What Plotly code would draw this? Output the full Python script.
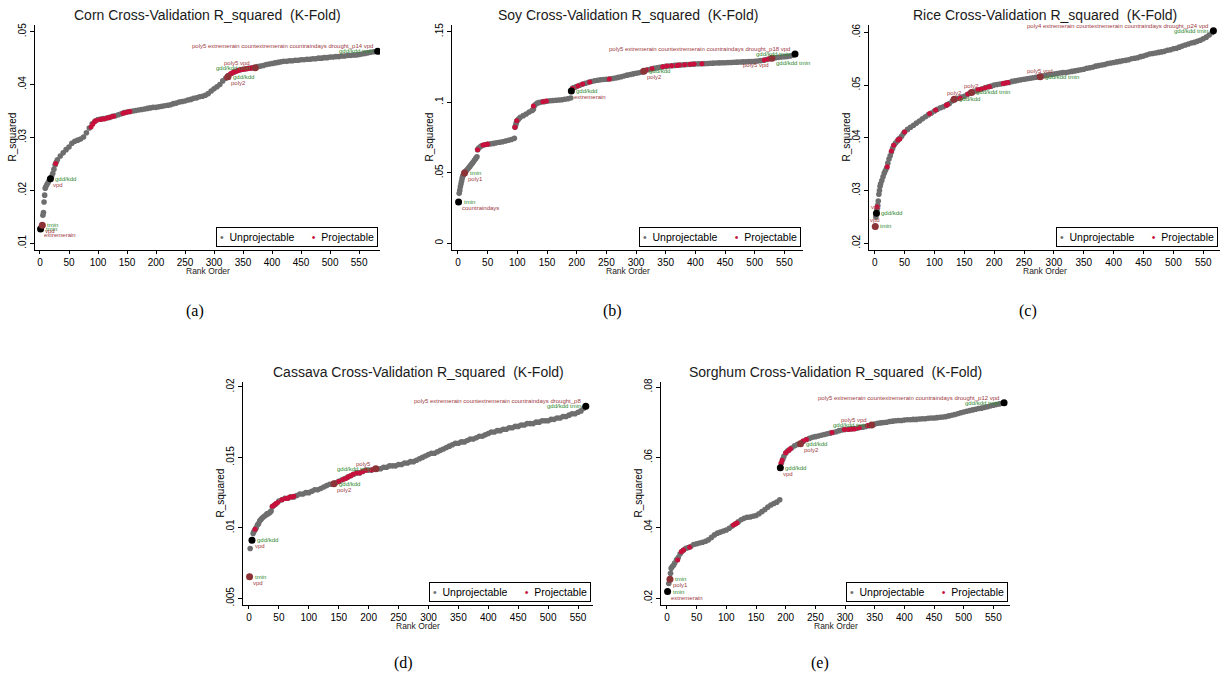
import plotly.graph_objects as go

W, H = 1225, 683

# ---------------- DATA ----------------
# Corn
corn_rank = [1, 3, 5, 6, 7, 8, 9, 10, 12, 14, 16, 18, 20, 22, 24, 26, 28] + list(range(30, 585, 5))
corn_r2 = [.0127, .0133, .0153, .0158, .0178, .0191, .0204, .0207, .0211, .0215, .0219, .0222, .0226, .0232, .0240, .0248, .0253,
           .0258, .0265, .0271, .0277, .0282, .0289, .0293, .0295, .0297, .0301,
           .0309, .0318, .0326, .0331, .0334, .0335, .0336, .0337, .0338, .0340,
           .0341, .0343, .0345, .0347, .0348, .0349, .0350, .0351, .0352, .0353,
           .0354, .0355, .0356, .0357, .0357, .0358, .0359, .0360, .0361, .0362,
           .0364, .0365, .0367, .0368, .0369, .0371, .0372, .0374, .0375, .0377,
           .0378, .0380, .0383, .0388, .0392, .0396, .0400, .0407, .0412, .0417,
           .0421, .0424, .0426, .0428, .0429, .0430, .0431, .0432, .0432, .0434,
           .0435, .0436, .0438, .0439, .0440, .0441, .0442, .0443, .0444, .0444,
           .0445, .0445, .0446, .0446, .0447, .0447, .0448, .0448, .0449, .0449,
           .0450, .0450, .0451, .0451, .0452, .0452, .0453, .0453, .0454, .0454,
           .0455, .0455, .0456, .0456, .0457, .0458, .0459, .0460, .0461, .0462,
           .0463]
corn_proj_rank = [27, 88, 91, 94, 97, 104, 107, 111, 116, 119, 124, 127, 143, 146, 151, 155,
                  322, 325, 328, 331, 334, 337, 340, 343, 346, 349, 352, 355, 358, 361, 364, 367]
corn_proj_r2 = [.0251, .0320, .0325, .0330, .0332, .0334, .0335, .0335, .0337, .0338, .0339, .0340, .0346, .0347, .0348, .0349,
                .0413, .0417, .0420, .0422, .0424, .0425, .0426, .0427, .0428, .0429, .0429, .0430, .0430, .0431, .0431, .0432]
corn_best_rank = [1, 4, 18, 324, 371, 582]
corn_best_r2 = [.0127, .0134, .0222, .0415, .0432, .0463]
corn_best_kind = ['unproj', 'proj', 'unproj', 'proj', 'proj', 'unproj']
corn_best_green = ['tmin', 'tmin', 'gdd/kdd', 'gdd/kdd', 'gdd/kdd tmin', 'gdd/kdd tmin']
corn_best_red = ['extremerain', 'vpd', 'vpd', 'poly2', 'poly5 vpd',
                 'poly5 extremerain countextremerain countraindays drought_p14 vpd']

# Soy
soy_rank = [1, 2, 3, 4, 5, 6, 7, 8, 9, 10, 12, 14, 16, 18, 20, 22, 24, 26, 28, 30, 32, 33, 35, 38, 40, 45, 50, 55, 60, 65,
            70, 75, 80, 85, 90, 95, 96, 97, 98, 99, 100, 102, 105, 110, 115, 120, 125, 127, 128, 130, 133, 136, 140,
            145, 150, 155, 160, 165, 170, 175, 180, 185, 190, 193, 195, 198, 200] + list(range(205, 570, 5))
soy_r2 = [.0293, .0354, .0375, .0400, .0420, .0440, .0460, .0475, .0485, .0492, .0506, .0515, .0525, .0535, .0545,
          .0556, .0567, .0578, .0590, .0602, .0614, .0664, .0675, .0686, .0692, .0698, .0703, .0705, .0708, .0712,
          .0716, .0720, .0725, .0730, .0736, .0744, .0822, .0835, .0850, .0865, .0870, .0880, .0893, .0905, .0917,
          .0930, .0942, .0950, .0970, .0982, .0992, .0997, .1001, .1004, .1007, .1010, .1012, .1014, .1016, .1018,
          .1021, .1025, .1030, .1098, .1102, .1108, .1112,
          .1120, .1128, .1135, .1141, .1147, .1152, .1156, .1159, .1161, .1163,
          .1165, .1168, .1172, .1176, .1181, .1186, .1192, .1197, .1201, .1205,
          .1209, .1214, .1222, .1230, .1236, .1240, .1244, .1248, .1251, .1254,
          .1257, .1259, .1261, .1263, .1264, .1266, .1267, .1268, .1270, .1271,
          .1272, .1273, .1274, .1275, .1276, .1277, .1278, .1279, .1280, .1280,
          .1281, .1282, .1283, .1284, .1285, .1286, .1287, .1288, .1289, .1290,
          .1292, .1295, .1298, .1303, .1308, .1312, .1315, .1318, .1320, .1322,
          .1325, .1328, .1334]
soy_proj_rank = [33, 42, 47, 50, 96, 99, 127, 143, 149, 193, 202, 210, 222, 255, 317, 327, 345, 352, 360, 369, 373,
                 382, 391, 398, 411, 516, 523]
soy_proj_r2 = [.0664, .0697, .0700, .0703, .0822, .0868, .0973, .1004, .1009, .1098, .1115, .1129, .1143, .1165, .1228,
               .1238, .1252, .1257, .1259, .1261, .1264, .1266, .1269, .1271, .1273, .1299, .1306]
soy_best_rank = [1, 11, 191, 313, 529, 568]
soy_best_r2 = [.0293, .0498, .1080, .1219, .1311, .1342]
soy_best_kind = ['unproj', 'proj', 'unproj', 'proj', 'proj', 'unproj']
soy_best_green = ['tmin', 'tmin', 'gdd/kdd', 'gdd/kdd', 'gdd/kdd tmin', 'gdd/kdd tmin']
soy_best_red = ['countraindays', 'poly1', 'extremerain', 'poly2', 'poly5 vpd',
                'poly5 extremerain countextremerain countraindays drought_p18 vpd']

# Rice
rice_rank = [1, 2, 3, 4, 5, 6, 7, 8, 9, 10, 12, 14, 16, 18, 20, 22, 24, 26, 28, 30, 32, 35, 38, 40, 42, 45, 48] + list(range(50, 570, 5))
rice_r2 = [.0232, .0250, .0257, .0264, .0272, .0280, .0293, .0300, .0308, .0313, .0319, .0326, .0333, .0338, .0343,
           .0352, .0360, .0366, .0373, .0380, .0386, .0390, .0394, .0397, .0399, .0403, .0408,
           .0411, .0416, .0420, .0424, .0428, .0432, .0436, .0440, .0444, .0447,
           .0451, .0454, .0457, .0459, .0462, .0465, .0470, .0473, .0475, .0477,
           .0479, .0482, .0485, .0487, .0489, .0491, .0493, .0495, .0497, .0498,
           .0500, .0501, .0502, .0503, .0504, .0505, .0507, .0508, .0509, .0510,
           .0511, .0512, .0513, .0514, .0515, .0516, .0517, .0518, .0519, .0520,
           .0521, .0522, .0523, .0524, .0524, .0525, .0526, .0527, .0528, .0529,
           .0530, .0532, .0533, .0534, .0536, .0537, .0538, .0539, .0541, .0542,
           .0543, .0544, .0545, .0546, .0547, .0548, .0550, .0551, .0552, .0554,
           .0555, .0557, .0559, .0560, .0561, .0562, .0563, .0564, .0566, .0567,
           .0569, .0570, .0572, .0574, .0576, .0578, .0580, .0581, .0583, .0585,
           .0588, .0591, .0595, .0600]
rice_proj_rank = [4, 21, 28, 32, 39, 42, 50, 92, 102, 120, 122, 143, 156, 173, 178, 185, 192, 215, 219, 223]
rice_proj_r2 = [.0269, .0345, .0375, .0386, .0396, .0398, .0411, .0446, .0453, .0462, .0463, .0475, .0483, .0491, .0492,
                .0495, .0497, .0503, .0504, .0505]
rice_best_rank = [1, 3, 133, 162, 277, 567]
rice_best_r2 = [.0232, .0257, .0473, .0486, .0516, .0603]
rice_best_kind = ['proj', 'unproj', 'proj', 'proj', 'proj', 'unproj']
rice_best_green = ['tmin', 'gdd/kdd', 'gdd/kdd', 'gdd/kdd tmin', 'gdd/kdd tmin', 'gdd/kdd tmin']
rice_best_red = ['vpd', 'vpd', 'poly2', 'poly2', 'poly5 vpd',
                 'poly4 extremerain countextremerain countraindays drought_p24 vpd']

# Cassava
cassava_rank = [1, 2, 5, 7, 8, 10, 12, 14, 16, 18, 20, 22, 25, 28, 30, 32, 35, 37, 39, 42, 45] + list(range(50, 565, 5))
cassava_r2 = [.00654, .00854, .00913, .0096, .00972, .00985, .0100, .0102, .0103, .0105, .0106, .0107, .0108, .0109,
              .0110, .0110, .0111, .0112, .0115, .0116, .0117,
              .0119, .0120, .0121, .0121, .0122, .0122, .0123, .0124, .0124, .0125,
              .0125, .0126, .0127, .0127, .0128, .0129, .0130, .0131, .0131, .0132,
              .0133, .0134, .0135, .0136, .0137, .0138, .0139, .0139, .0140, .0141,
              .0141, .0141, .0142, .0142, .0142, .0143, .0143, .0144, .0144, .0144,
              .0145, .0145, .0146, .0146, .0147, .0147, .0148, .0149, .0150, .0151,
              .0152, .0153, .0153, .0154, .0155, .0156, .0157, .0158, .0159, .0160,
              .0160, .0161, .0161, .0162, .0163, .0163, .0164, .0165, .0165, .0166,
              .0167, .0168, .0168, .0169, .0169, .0170, .0170, .0171, .0171, .0172,
              .0172, .0173, .0173, .0174, .0174, .0174, .0175, .0175, .0176, .0176,
              .0176, .0177, .0177, .0178, .0178, .0179, .0179, .0180, .0181, .0181,
              .0182, .0183, .0185]
cassava_proj_rank = [10, 39, 42, 45, 48, 55, 61, 65, 68, 72, 75, 150, 157, 162, 166, 170, 174, 180, 185, 190, 196, 205]
cassava_proj_r2 = [.0099, .01154, .0116, .01173, .0118, .0120, .01209, .0121, .0122, .0122, .01225, .0133, .01343, .0135,
                   .01362, .0137, .01381, .0139, .0139, .0140, .01409, .0141]
cassava_best_rank = [1, 5, 142, 212, 563]
cassava_best_r2 = [.00654, .00913, .01313, .01419, .01863]
cassava_best_kind = ['proj', 'unproj', 'proj', 'proj', 'unproj']
cassava_best_green = ['tmin', 'gdd/kdd', 'gdd/kdd', 'gdd/kdd tmin', 'gdd/kdd tmin']
cassava_best_red = ['vpd', 'vpd', 'poly2', 'poly5',
                    'poly5 extremerain countextremerain countraindays drought_p8']

# Sorghum
sorghum_rank = ([1, 3, 5, 6, 7, 9, 11, 13, 16, 19, 22, 25, 28, 32, 36, 40] + list(range(45, 195, 5)) +
                [193, 195, 197, 200, 203, 206, 210] + list(range(215, 570, 5)))
sorghum_r2 = [.0219, .0242, .0254, .0271, .0285, .0290, .0294, .0300, .0309, .0316, .0326, .0333, .0337, .0342, .0344, .0347,
              .0353, .0355, .0357, .0359, .0362, .0366, .0373, .0380, .0385, .0388,
              .0391, .0394, .0399, .0405, .0411, .0417, .0423, .0427, .0430, .0431,
              .0433, .0435, .0440, .0446, .0452, .0459, .0465, .0469, .0473, .0480,
              .0585, .0595, .0603, .0612, .0618, .0622, .0627,
              .0633, .0637, .0640, .0646, .0651, .0654, .0657, .0659, .0661, .0663,
              .0665, .0667, .0669, .0671, .0673, .0676, .0678, .0679, .0680, .0681,
              .0682, .0683, .0685, .0686, .0688, .0690, .0692, .0695, .0697, .0698,
              .0699, .0700, .0702, .0703, .0704, .0705, .0705, .0706, .0707, .0707,
              .0708, .0708, .0709, .0710, .0710, .0711, .0712, .0712, .0713, .0714,
              .0715, .0716, .0718, .0720, .0722, .0724, .0727, .0729, .0731, .0733,
              .0735, .0737, .0739, .0740, .0742, .0744, .0746, .0748, .0750, .0752,
              .0754]
sorghum_proj_rank = [18, 24, 28, 38, 112, 115, 118, 192, 194, 200, 205, 208, 229, 235, 278, 299, 306, 312, 316, 324, 338]
sorghum_proj_r2 = [.0309, .0332, .0337, .0345, .0408, .0411, .0414, .0583, .0592, .0613, .0620, .0625, .0647, .0651, .0671,
                   .0679, .0679, .0681, .0681, .0684, .0691]
sorghum_best_rank = [1, 5, 191, 225, 345, 568]
sorghum_best_r2 = [.0219, .0254, .0571, .0639, .0692, .0755]
sorghum_best_kind = ['unproj', 'proj', 'unproj', 'proj', 'proj', 'unproj']
sorghum_best_green = ['tmin', 'tmin', 'gdd/kdd', 'gdd/kdd', 'gdd/kdd tmin', 'gdd/kdd tmin']
sorghum_best_red = ['extremerain', 'poly1', 'vpd', 'poly2', 'poly5 vpd',
                    'poly5 extremerain countextremerain countraindays drought_p12 vpd']

for a, b in [(corn_rank, corn_r2), (soy_rank, soy_r2), (rice_rank, rice_r2),
             (cassava_rank, cassava_r2), (sorghum_rank, sorghum_r2)]:
    assert len(a) == len(b), (len(a), len(b))

# ---------------- STYLE ----------------
GRAY = '#6e6e6e'
RED = '#c8103c'
CRAN = '#8c3338'
GREEN_TXT = '#2b8a2b'
RED_TXT = '#9c3a42'
FONT = 'Liberation Sans, Arial, sans-serif'
SERIF = 'Liberation Serif, Times New Roman, serif'

# label placement codes (anchor, xshift, yshift) for green, red label
POS = {
    'R': (('left', 4, 0), ('left', 2, -6)),
    'L': (('right', -4, 0), ('right', -4, 5)),
    'A': (('left', 4, 0), ('center', 0, 6)),
    'D': (('left', 3, -5), ('right', -2, -7)),
}

panels = [
    dict(title='Corn Cross-Validation R_squared&nbsp; (K-Fold)', rank=corn_rank, r2=corn_r2,
         prank=corn_proj_rank, pr2=corn_proj_r2, brank=corn_best_rank, br2=corn_best_r2,
         bkind=corn_best_kind, bgreen=corn_best_green, bred=corn_best_red,
         bpos=['R', 'R', 'R', 'R', 'L', 'L'],
         box=(35, 380, 25, 250), xr=(-8.6, 586), yr=(.00873, .05127),
         yt=[.01, .02, .03, .04, .05], ytt=['.01', '.02', '.03', '.04', '.05'],
         cap='(a)', capxy=(195, 311)),
    dict(title='Soy Cross-Validation R_squared&nbsp; (K-Fold)', rank=soy_rank, r2=soy_r2,
         prank=soy_proj_rank, pr2=soy_proj_r2, brank=soy_best_rank, br2=soy_best_r2,
         bkind=soy_best_kind, bgreen=soy_best_green, bred=soy_best_red,
         bpos=['R', 'R', 'R', 'R', 'D', 'L'],
         box=(452, 803, 25, 250), xr=(-10.1, 581.4), yr=(-.00475, .15475),
         yt=[0, .05, .1, .15], ytt=['0', '.05', '.1', '.15'],
         cap='(b)', capxy=(612, 311)),
    dict(title='Rice Cross-Validation R_squared&nbsp; (K-Fold)', rank=rice_rank, r2=rice_r2,
         prank=rice_proj_rank, pr2=rice_proj_r2, brank=rice_best_rank, br2=rice_best_r2,
         bkind=rice_best_kind, bgreen=rice_best_green, bred=rice_best_red,
         bpos=['A', 'A', 'A', 'A', 'A', 'L'],
         box=(869, 1220, 25, 250), xr=(-9.5, 578), yr=(.01873, .0614),
         yt=[.02, .03, .04, .05, .06], ytt=['.02', '.03', '.04', '.05', '.06'],
         cap='(c)', capxy=(1028, 311)),
    dict(title='Cassava Cross-Validation R_squared&nbsp; (K-Fold)', rank=cassava_rank, r2=cassava_r2,
         prank=cassava_proj_rank, pr2=cassava_proj_r2, brank=cassava_best_rank, br2=cassava_best_r2,
         bkind=cassava_best_kind, bgreen=cassava_best_green, bred=cassava_best_red,
         bpos=['R', 'R', 'R', 'L', 'L'],
         box=(243, 593, 382, 605), xr=(-10, 575), yr=(.00453, .02035),
         yt=[.005, .01, .015, .02], ytt=['.005', '.01', '.015', '.02'],
         cap='(d)', capxy=(403, 663)),
    dict(title='Sorghum Cross-Validation R_squared&nbsp; (K-Fold)', rank=sorghum_rank, r2=sorghum_r2,
         prank=sorghum_proj_rank, pr2=sorghum_proj_r2, brank=sorghum_best_rank, br2=sorghum_best_r2,
         bkind=sorghum_best_kind, bgreen=sorghum_best_green, bred=sorghum_best_red,
         bpos=['R', 'R', 'R', 'R', 'L', 'L'],
         box=(661, 1010, 382, 605), xr=(-10.1, 578), yr=(.0181, .08142),
         yt=[.02, .04, .06, .08], ytt=['.02', '.04', '.06', '.08'],
         cap='(e)', capxy=(820, 663)),
]

fig = go.Figure()
annotations = []
layout = dict(width=W, height=H, margin=dict(l=0, r=0, t=0, b=0),
              paper_bgcolor='white', plot_bgcolor='white', showlegend=False,
              font=dict(family=FONT, color='black'))


def px_x(v):
    return v / W


def px_y(v):
    return 1 - v / H


for i, p in enumerate(panels):
    n = '' if i == 0 else str(i + 1)
    xref, yref = 'x' + n, 'y' + n
    L, R, T, B = p['box']
    layout['xaxis' + n] = dict(domain=[px_x(L), px_x(R)], anchor=yref, range=list(p['xr']),
                               tickvals=list(range(0, 551, 50)), showline=True, linecolor='black', linewidth=1,
                               ticks='outside', ticklen=3, tickcolor='black', showgrid=False, zeroline=False,
                               tickfont=dict(size=10, color='black'), automargin=False)
    layout['yaxis' + n] = dict(domain=[px_y(B), px_y(T)], anchor=xref, range=list(p['yr']),
                               tickvals=p['yt'], ticktext=p['ytt'], tickangle=-90,
                               showline=True, linecolor='black', linewidth=1,
                               ticks='outside', ticklen=4, tickcolor='black', showgrid=False, zeroline=False,
                               tickfont=dict(size=10, color='black'), automargin=False)
    # all models
    fig.add_trace(go.Scatter(x=p['rank'], y=p['r2'], mode='markers', xaxis=xref, yaxis=yref,
                             marker=dict(size=5.6, color=GRAY), name='Unprojectable', hoverinfo='skip'))
    # projectable models
    fig.add_trace(go.Scatter(x=p['prank'], y=p['pr2'], mode='markers', xaxis=xref, yaxis=yref,
                             marker=dict(size=5, color=RED), name='Projectable', hoverinfo='skip'))
    # best models
    fig.add_trace(go.Scatter(x=p['brank'], y=p['br2'], mode='markers', xaxis=xref, yaxis=yref,
                             marker=dict(size=7, color=[CRAN if k == 'proj' else 'black' for k in p['bkind']]),
                             hoverinfo='skip'))
    for xr_, yv, g, r, pos in zip(p['brank'], p['br2'], p['bgreen'], p['bred'], p['bpos']):
        (ga, gx, gy), (ra, rx, ry) = POS[pos]
        annotations.append(dict(x=xr_, y=yv, xref=xref, yref=yref, text=g, showarrow=False,
                                xanchor=ga, yanchor='middle', xshift=gx, yshift=gy, borderpad=0,
                                font=dict(size=6, color=GREEN_TXT, family=FONT)))
        annotations.append(dict(x=xr_, y=yv, xref=xref, yref=yref, text=r, showarrow=False,
                                xanchor=ra, yanchor='middle', xshift=rx, yshift=ry, borderpad=0,
                                font=dict(size=6, color=RED_TXT, family=FONT)))
    cx = (L + R) / 2
    cy = (T + B) / 2
    # title
    annotations.append(dict(x=px_x(cx), y=px_y(T - 10), xref='paper', yref='paper', text=p['title'],
                            showarrow=False, xanchor='center', yanchor='middle',
                            font=dict(size=14, color='#1a1a1a', family=FONT)))
    # axis titles
    annotations.append(dict(x=px_x(L - 23), y=px_y(cy), xref='paper', yref='paper', text='R_squared',
                            showarrow=False, xanchor='center', yanchor='middle', textangle=-90,
                            font=dict(size=10, color='black', family=FONT)))
    annotations.append(dict(x=px_x(cx), y=px_y(B + 21), xref='paper', yref='paper', text='Rank Order',
                            showarrow=False, xanchor='center', yanchor='middle', borderpad=0,
                            font=dict(size=8.5, color='#222222', family=FONT)))
    # legend box
    leg = (f"<span style='color:{GRAY}'>•</span>&nbsp; Unprojectable"
           f"&nbsp;&nbsp;&nbsp;&nbsp;&nbsp;&nbsp;<span style='color:{RED}'>•</span>&nbsp; Projectable")
    annotations.append(dict(x=px_x(R - 2), y=px_y(B - 3), xref='paper', yref='paper', text=leg,
                            showarrow=False, xanchor='right', yanchor='bottom', bgcolor='white',
                            bordercolor='black', borderwidth=1, borderpad=3,
                            font=dict(size=10.5, color='black', family=FONT)))
    # sub caption
    annotations.append(dict(x=px_x(p['capxy'][0]), y=px_y(p['capxy'][1]), xref='paper', yref='paper',
                            text=p['cap'], showarrow=False, xanchor='center', yanchor='middle',
                            font=dict(size=16, color='black', family=SERIF)))

layout['annotations'] = annotations
fig.update_layout(**layout)
fig.write_html('out.html')
